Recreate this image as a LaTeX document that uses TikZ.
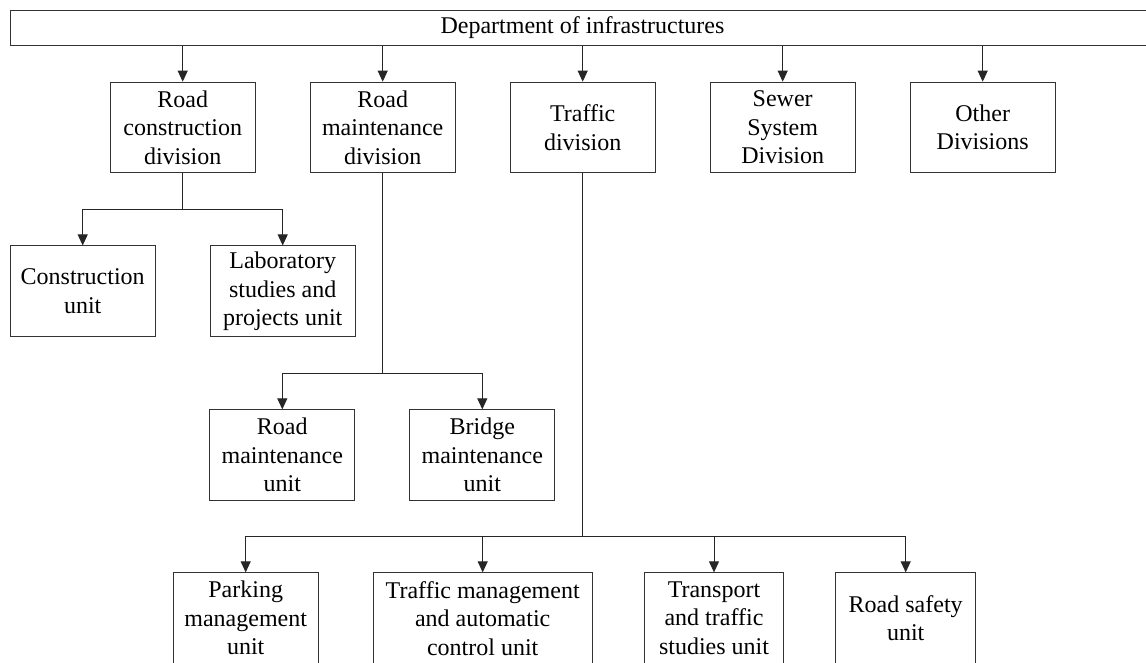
\documentclass[tikz,border=0pt]{standalone}
\usepackage{fontspec}
\setmainfont{Liberation Serif}
\usetikzlibrary{arrows.meta}
\begin{document}
\begin{tikzpicture}[x=1pt,y=-1pt,
  box/.style={draw=black!80, line width=1pt, inner sep=0pt, align=center,
    font=\fontsize{24}{28.5}\selectfont, minimum height=90.7pt},
  arr/.style={draw=black!85, line width=1pt, -{Triangle[width=10pt,length=11pt]}},
  ln/.style={draw=black!85, line width=1pt}]
\useasboundingbox (0,0) rectangle (1146,662);
\clip (0,0) rectangle (1146,662);
\node[box, minimum width=1145pt, minimum height=35pt] (top) at (582.5,27.5) {Department of infrastructures};
\node[box, minimum width=145pt] (d1) at (182.7,127.5) {Road\\construction\\division};
\node[box, minimum width=145pt] (d2) at (382.7,127.5) {Road\\maintenance\\division};
\node[box, minimum width=145pt] (d3) at (582.7,127.5) {Traffic\\division};
\node[box, minimum width=145pt] (d4) at (782.7,127.5) {Sewer\\System\\Division};
\node[box, minimum width=145pt] (d5) at (982.7,127.5) {Other\\Divisions};
\node[box, minimum width=145pt] (cons) at (82.7,291.3) {Construction\\unit};
\node[box, minimum width=145pt] (lab) at (282.7,291.3) {Laboratory\\studies and\\projects unit};
\node[box, minimum width=145pt] (rmu) at (282.3,455.2) {Road\\maintenance\\unit};
\node[box, minimum width=145pt] (bmu) at (482.3,455.2) {Bridge\\maintenance\\unit};
\node[box, minimum width=145pt] (park) at (245.7,618.2) {Parking\\management\\unit};
\node[box, minimum width=218.7pt] (tmac) at (482.7,618.2) {Traffic management\\and automatic\\control unit};
\node[box, minimum width=138.7pt] (tts) at (714,618.2) {Transport\\and traffic\\studies unit};
\node[box, minimum width=140pt] (rsu) at (905.7,618.2) {Road safety\\unit};
\foreach \d in {d1,d2,d3,d4,d5}{
  \draw[arr] (\d.north |- top.south) -- (\d.north);
}
\coordinate (j1) at (182.7,209.3);
\coordinate (j2) at (382.7,373.3);
\coordinate (j3) at (582.7,536);
\draw[ln] (d1.south) -- (j1);
\draw[arr] (j1) -| (cons.north);
\draw[arr] (j1) -| (lab.north);
\draw[ln] (d2.south) -- (j2);
\draw[arr] (j2) -| (rmu.north);
\draw[arr] (j2) -| (bmu.north);
\draw[ln] (d3.south) -- (j3);
\draw[arr] (j3) -| (park.north);
\draw[arr] (j3) -| (tmac.north);
\draw[arr] (j3) -| (tts.north);
\draw[arr] (j3) -| (rsu.north);
\end{tikzpicture}
\end{document}
